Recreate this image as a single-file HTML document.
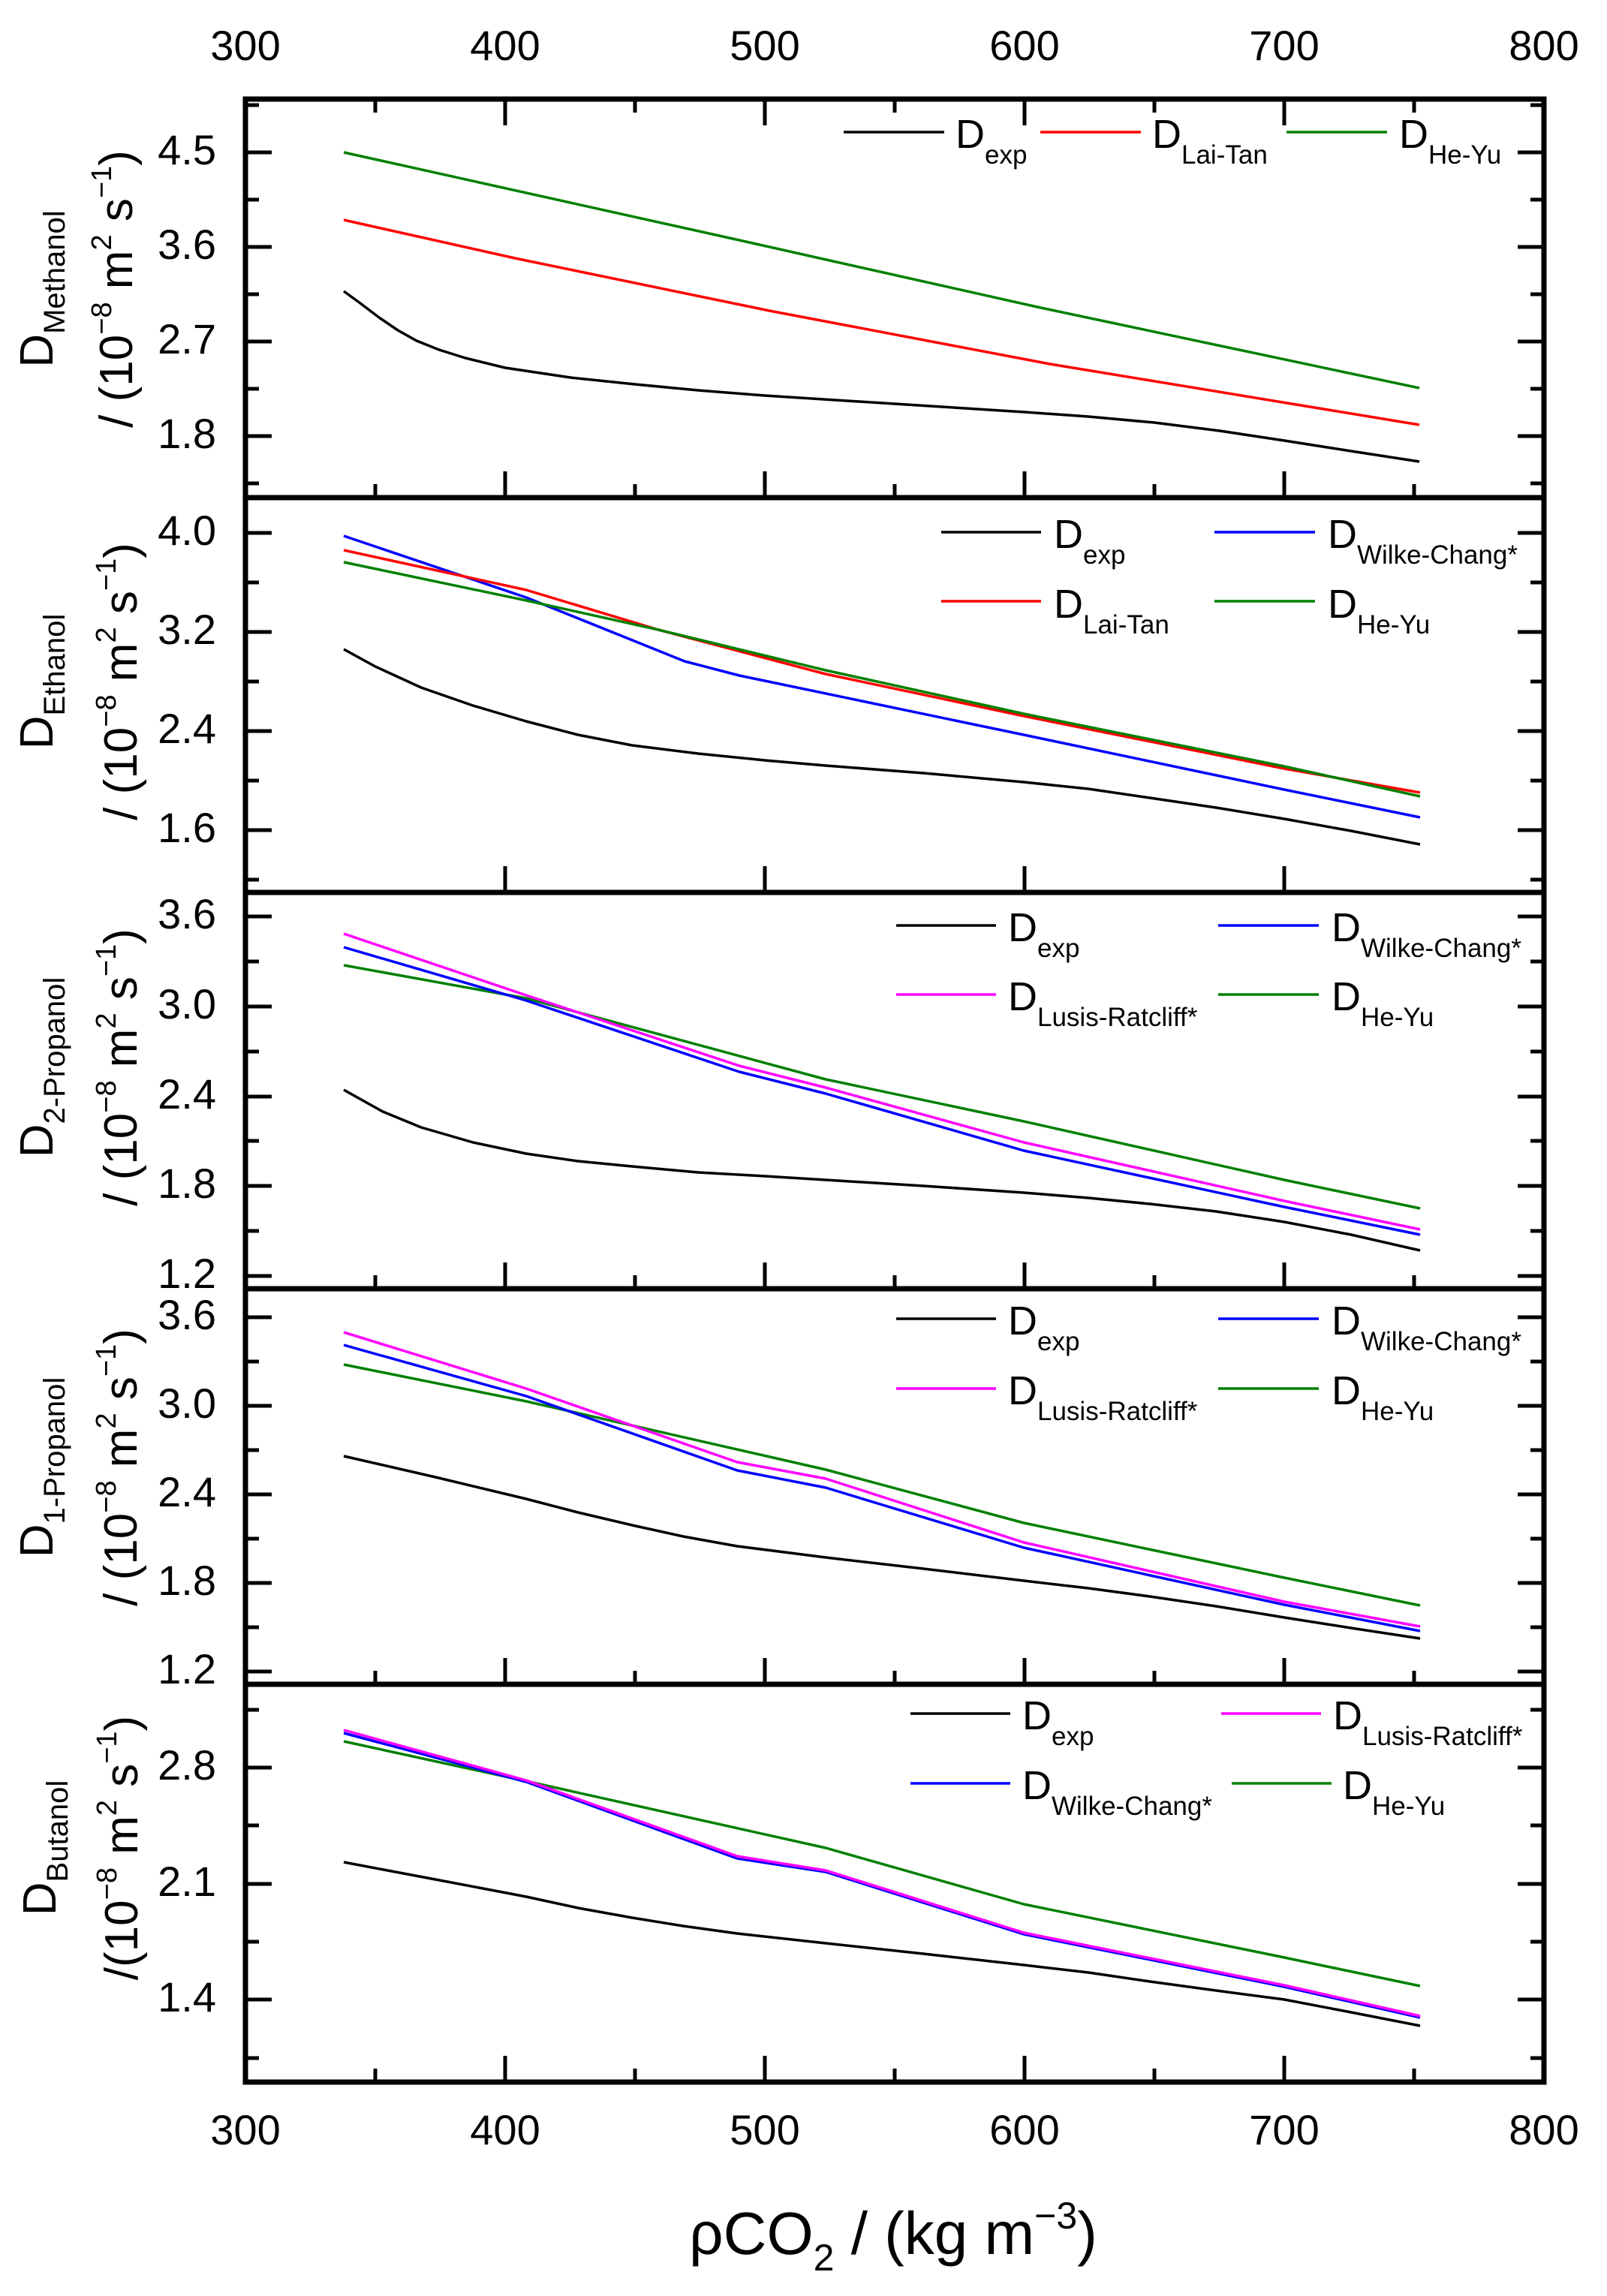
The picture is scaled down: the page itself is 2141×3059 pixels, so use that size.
<!DOCTYPE html>
<html><head><meta charset="utf-8"><style>
html,body{margin:0;padding:0;background:#fff;}
svg{display:block;}
text{font-family:"Liberation Sans",Arial,sans-serif;fill:#000;}
</style></head><body>
<svg width="2141" height="3059" viewBox="0 0 2141 3059" xmlns="http://www.w3.org/2000/svg">
<rect width="2141" height="3059" fill="#fff"/>

<g font-size="56" text-anchor="middle">
<text x="327" y="80">300</text><text x="673" y="80">400</text><text x="1019" y="80">500</text>
<text x="1365" y="80">600</text><text x="1711" y="80">700</text><text x="2057" y="80">800</text>
</g>
<g font-size="56" text-anchor="middle">
<text x="327" y="2857">300</text><text x="673" y="2857">400</text><text x="1019" y="2857">500</text>
<text x="1365" y="2857">600</text><text x="1711" y="2857">700</text><text x="2057" y="2857">800</text>
</g>
<text x="1190" y="3003" font-size="80" text-anchor="middle">ρCO<tspan font-size="50" dy="22">2</tspan><tspan dy="-22"> / (kg m</tspan><tspan font-size="50" dy="-34">−3</tspan><tspan dy="34">)</tspan></text>

<g fill="none" stroke="#000" stroke-width="7">
<rect x="327" y="132" width="1730" height="2642"/>
<line x1="327" y1="663" x2="2057" y2="663"/>
<line x1="327" y1="1189" x2="2057" y2="1189"/>
<line x1="327" y1="1717" x2="2057" y2="1717"/>
<line x1="327" y1="2244" x2="2057" y2="2244"/>
</g>

<g stroke="#000" stroke-width="5">
<path d="M673 132v35M1019 132v35M1365 132v35M1711 132v35M500 132v18M846 132v18M1192 132v18M1538 132v18M1884 132v18"/>
<path d="M673 663v-35M1019 663v-35M1365 663v-35M1711 663v-35M500 663v-18M846 663v-18M1192 663v-18M1538 663v-18M1884 663v-18"/>
<path d="M673 1189v-35M1019 1189v-35M1365 1189v-35M1711 1189v-35"/>
<path d="M673 1717v-35M1019 1717v-35M1365 1717v-35M1711 1717v-35M500 1717v-18M846 1717v-18M1192 1717v-18M1538 1717v-18M1884 1717v-18"/>
<path d="M673 2244v-35M1019 2244v-35M1365 2244v-35M1711 2244v-35M500 2244v-18M846 2244v-18M1192 2244v-18M1538 2244v-18M1884 2244v-18"/>
<path d="M673 2774v-35M1019 2774v-35M1365 2774v-35M1711 2774v-35M500 2774v-18M846 2774v-18M1192 2774v-18M1538 2774v-18M1884 2774v-18"/>
</g>

<g stroke="#000" stroke-width="5">
<path d="M327 203h35M327 329h35M327 455h35M327 581h35M327 140h18M327 266h18M327 392h18M327 518h18M327 644h18"/>
<path d="M2057 203h-35M2057 329h-35M2057 455h-35M2057 581h-35M2057 140h-18M2057 266h-18M2057 392h-18M2057 518h-18M2057 644h-18"/>
<path d="M327 710h35M327 842h35M327 974h35M327 1106h35M327 776h18M327 908h18M327 1040h18M327 1172h18"/>
<path d="M2057 710h-35M2057 842h-35M2057 974h-35M2057 1106h-35M2057 776h-18M2057 908h-18M2057 1040h-18M2057 1172h-18"/>
<path d="M327 1221h35M327 1341h35M327 1461h35M327 1580h35M327 1700h35M327 1281h18M327 1401h18M327 1520h18M327 1640h18"/>
<path d="M2057 1221h-35M2057 1341h-35M2057 1461h-35M2057 1580h-35M2057 1700h-35M2057 1281h-18M2057 1401h-18M2057 1520h-18M2057 1640h-18"/>
<path d="M327 1755h35M327 1873h35M327 1991h35M327 2109h35M327 2227h35M327 1814h18M327 1932h18M327 2050h18M327 2168h18"/>
<path d="M2057 1755h-35M2057 1873h-35M2057 1991h-35M2057 2109h-35M2057 2227h-35M2057 1814h-18M2057 1932h-18M2057 2050h-18M2057 2168h-18"/>
<path d="M327 2355h35M327 2510h35M327 2664h35M327 2278h18M327 2432h18M327 2587h18M327 2742h18"/>
<path d="M2057 2355h-35M2057 2510h-35M2057 2664h-35M2057 2278h-18M2057 2432h-18M2057 2587h-18M2057 2742h-18"/>
</g>

<g font-size="56" text-anchor="end">
<text x="288" y="219">4.5</text><text x="288" y="345">3.6</text><text x="288" y="471">2.7</text><text x="288" y="597">1.8</text>
<text x="288" y="726">4.0</text><text x="288" y="858">3.2</text><text x="288" y="990">2.4</text><text x="288" y="1122">1.6</text>
<text x="288" y="1237">3.6</text><text x="288" y="1357">3.0</text><text x="288" y="1477">2.4</text><text x="288" y="1596">1.8</text><text x="288" y="1716">1.2</text>
<text x="288" y="1771">3.6</text><text x="288" y="1889">3.0</text><text x="288" y="2007">2.4</text><text x="288" y="2125">1.8</text><text x="288" y="2243">1.2</text>
<text x="288" y="2371">2.8</text><text x="288" y="2526">2.1</text><text x="288" y="2680">1.4</text>
</g>

<g font-size="62" text-anchor="middle">
<text transform="translate(70,385) rotate(-90)">D<tspan font-size="40" dy="16">Methanol</tspan></text>
<text transform="translate(176,385) rotate(-90)">/ (10<tspan font-size="38" dy="-28">−8</tspan><tspan dy="28"> m</tspan><tspan font-size="38" dy="-28">2</tspan><tspan dy="28"> s</tspan><tspan font-size="38" dy="-28">−1</tspan><tspan dy="28">)</tspan></text>
<text transform="translate(70,908) rotate(-90)">D<tspan font-size="40" dy="16">Ethanol</tspan></text>
<text transform="translate(182,908) rotate(-90)">/ (10<tspan font-size="38" dy="-28">−8</tspan><tspan dy="28"> m</tspan><tspan font-size="38" dy="-28">2</tspan><tspan dy="28"> s</tspan><tspan font-size="38" dy="-28">−1</tspan><tspan dy="28">)</tspan></text>
<text transform="translate(70,1422) rotate(-90)">D<tspan font-size="40" dy="16">2-Propanol</tspan></text>
<text transform="translate(182,1422) rotate(-90)">/ (10<tspan font-size="38" dy="-28">−8</tspan><tspan dy="28"> m</tspan><tspan font-size="38" dy="-28">2</tspan><tspan dy="28"> s</tspan><tspan font-size="38" dy="-28">−1</tspan><tspan dy="28">)</tspan></text>
<text transform="translate(70,1955) rotate(-90)">D<tspan font-size="40" dy="16">1-Propanol</tspan></text>
<text transform="translate(182,1955) rotate(-90)">/ (10<tspan font-size="38" dy="-28">−8</tspan><tspan dy="28"> m</tspan><tspan font-size="38" dy="-28">2</tspan><tspan dy="28"> s</tspan><tspan font-size="38" dy="-28">−1</tspan><tspan dy="28">)</tspan></text>
<text transform="translate(74,2462) rotate(-90)">D<tspan font-size="40" dy="16">Butanol</tspan></text>
<text transform="translate(183,2462) rotate(-90)">/(10<tspan font-size="38" dy="-28">−8</tspan><tspan dy="28"> m</tspan><tspan font-size="38" dy="-28">2</tspan><tspan dy="28"> s</tspan><tspan font-size="38" dy="-28">−1</tspan><tspan dy="28">)</tspan></text>
</g>

<g fill="none" stroke-width="3.5" stroke-linejoin="round">
<polyline stroke="#008000" points="458,203 985,320 1382,409 1891,517"/>
<polyline stroke="#ff0000" points="458,293 686,344 1025,414 1399,485 1891,566"/>
<polyline stroke="#000" points="458,388 480,404 505,423 530,440 555,454 585,466 620,477 673,490 760,503 846,512 930,520 1019,527 1192,538 1365,549 1450,555 1538,563 1625,574 1711,587 1800,601 1891,615"/>
<polyline stroke="#0000ff" points="458,714 701,796 912,881 985,900 1364,979 1711,1052 1892,1089"/>
<polyline stroke="#ff0000" points="458,733 701,786 877,839 1100,898 1364,954 1711,1024 1892,1056"/>
<polyline stroke="#008000" points="458,749 701,800 877,839 1100,893 1364,951 1711,1021 1892,1061"/>
<polyline stroke="#000" points="458,865 500,888 561,916 630,940 701,961 770,979 842,993 930,1004 1019,1013 1100,1020 1230,1030 1364,1042 1450,1051 1532,1063 1620,1076 1711,1091 1800,1107 1892,1125"/>
<polyline stroke="#008000" points="458,1286 701,1330 1100,1438 1364,1494 1711,1572 1892,1610"/>
<polyline stroke="#ff00ff" points="458,1244 701,1326 985,1420 1100,1449 1364,1522 1711,1600 1892,1638"/>
<polyline stroke="#0000ff" points="458,1262 701,1333 985,1428 1100,1457 1364,1533 1711,1608 1892,1645"/>
<polyline stroke="#000" points="458,1452 510,1481 561,1502 630,1522 701,1537 770,1547 842,1554 930,1562 1019,1567 1100,1572 1230,1580 1364,1589 1450,1596 1532,1604 1620,1614 1711,1628 1800,1645 1892,1666"/>
<polyline stroke="#008000" points="458,1818 701,1867 1100,1958 1364,2029 1711,2102 1892,2139"/>
<polyline stroke="#ff00ff" points="458,1775 701,1850 982,1948 1100,1970 1364,2055 1711,2134 1892,2167"/>
<polyline stroke="#0000ff" points="458,1792 701,1860 982,1959 1100,1982 1364,2062 1711,2138 1892,2173"/>
<polyline stroke="#000" points="458,1940 580,1968 701,1997 770,2015 842,2032 910,2047 982,2060 1100,2075 1230,2090 1364,2106 1450,2116 1532,2127 1620,2140 1711,2155 1800,2169 1892,2183"/>
<polyline stroke="#008000" points="458,2320 701,2373 1100,2462 1364,2537 1711,2608 1892,2646"/>
<polyline stroke="#0000ff" points="458,2309 701,2374 982,2476 1100,2494 1364,2577 1711,2647 1892,2688"/>
<polyline stroke="#ff00ff" points="458,2305 701,2372 982,2473 1100,2492 1364,2575 1711,2645 1892,2686"/>
<polyline stroke="#000" points="458,2481 580,2504 701,2527 770,2542 842,2555 910,2566 982,2576 1100,2589 1230,2603 1364,2618 1450,2628 1532,2640 1620,2652 1711,2664 1800,2681 1892,2699"/>
</g>

<g stroke-width="3.5">
<line x1="1124" y1="176" x2="1258" y2="176" stroke="#000"/>
<line x1="1386" y1="176" x2="1520" y2="176" stroke="#ff0000"/>
<line x1="1714" y1="176" x2="1848" y2="176" stroke="#008000"/>
<line x1="1254" y1="709" x2="1387" y2="709" stroke="#000"/>
<line x1="1618" y1="709" x2="1752" y2="709" stroke="#0000ff"/>
<line x1="1254" y1="801" x2="1387" y2="801" stroke="#ff0000"/>
<line x1="1618" y1="801" x2="1752" y2="801" stroke="#008000"/>
<line x1="1194" y1="1233" x2="1327" y2="1233" stroke="#000"/>
<line x1="1623" y1="1233" x2="1757" y2="1233" stroke="#0000ff"/>
<line x1="1194" y1="1325" x2="1327" y2="1325" stroke="#ff00ff"/>
<line x1="1623" y1="1325" x2="1757" y2="1325" stroke="#008000"/>
<line x1="1194" y1="1757" x2="1327" y2="1757" stroke="#000"/>
<line x1="1623" y1="1757" x2="1757" y2="1757" stroke="#0000ff"/>
<line x1="1194" y1="1850" x2="1327" y2="1850" stroke="#ff00ff"/>
<line x1="1623" y1="1850" x2="1757" y2="1850" stroke="#008000"/>
<line x1="1213" y1="2283" x2="1346" y2="2283" stroke="#000"/>
<line x1="1627" y1="2283" x2="1760" y2="2283" stroke="#ff00ff"/>
<line x1="1213" y1="2376" x2="1346" y2="2376" stroke="#0000ff"/>
<line x1="1641" y1="2376" x2="1774" y2="2376" stroke="#008000"/>
</g>
<g font-size="54">
<text x="1273" y="197">D<tspan font-size="35" dy="21">exp</tspan></text>
<text x="1535" y="197">D<tspan font-size="35" dy="21">Lai-Tan</tspan></text>
<text x="1864" y="197">D<tspan font-size="35" dy="21">He-Yu</tspan></text>
<text x="1404" y="730">D<tspan font-size="35" dy="21">exp</tspan></text>
<text x="1769" y="730">D<tspan font-size="35" dy="21">Wilke-Chang*</tspan></text>
<text x="1404" y="823">D<tspan font-size="35" dy="21">Lai-Tan</tspan></text>
<text x="1769" y="823">D<tspan font-size="35" dy="21">He-Yu</tspan></text>
<text x="1343" y="1254">D<tspan font-size="35" dy="21">exp</tspan></text>
<text x="1774" y="1254">D<tspan font-size="35" dy="21">Wilke-Chang*</tspan></text>
<text x="1343" y="1346">D<tspan font-size="35" dy="21">Lusis-Ratcliff*</tspan></text>
<text x="1774" y="1346">D<tspan font-size="35" dy="21">He-Yu</tspan></text>
<text x="1343" y="1778">D<tspan font-size="35" dy="21">exp</tspan></text>
<text x="1774" y="1778">D<tspan font-size="35" dy="21">Wilke-Chang*</tspan></text>
<text x="1343" y="1871">D<tspan font-size="35" dy="21">Lusis-Ratcliff*</tspan></text>
<text x="1774" y="1871">D<tspan font-size="35" dy="21">He-Yu</tspan></text>
<text x="1362" y="2304">D<tspan font-size="35" dy="21">exp</tspan></text>
<text x="1776" y="2304">D<tspan font-size="35" dy="21">Lusis-Ratcliff*</tspan></text>
<text x="1362" y="2397">D<tspan font-size="35" dy="21">Wilke-Chang*</tspan></text>
<text x="1789" y="2397">D<tspan font-size="35" dy="21">He-Yu</tspan></text>
</g>
</svg>
</body></html>
